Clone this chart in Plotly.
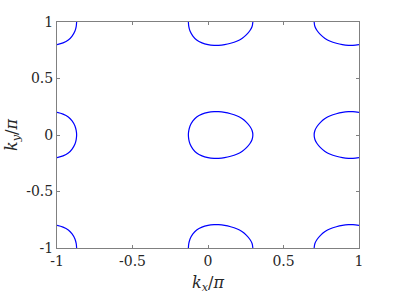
import plotly.graph_objects as go

# Fermi-surface contour pieces (kx/pi, ky/pi)
center_kx = [-0.130, -0.127, -0.119, -0.100, -0.075, -0.040, 0.000, 0.040, 0.070, 0.110, 0.150, 0.190, 0.225, 0.255, 0.278, 0.292, 0.297,
             0.292, 0.278, 0.255, 0.225, 0.190, 0.150, 0.110, 0.070, 0.040, 0.000, -0.040, -0.075, -0.100, -0.119, -0.127, -0.130]
center_ky = [0.000, 0.040, 0.080, 0.125, 0.160, 0.185, 0.200, 0.206, 0.206, 0.200, 0.188, 0.170, 0.145, 0.112, 0.075, 0.040, 0.000,
             -0.040, -0.075, -0.112, -0.145, -0.170, -0.188, -0.200, -0.206, -0.206, -0.200, -0.185, -0.160, -0.125, -0.080, -0.040, 0.000]

top_center_kx = [-0.130, -0.127, -0.119, -0.100, -0.075, -0.040, 0.000, 0.040, 0.070, 0.110, 0.150, 0.190, 0.225, 0.255, 0.278, 0.292, 0.297]
top_center_ky = [1.000, 0.960, 0.920, 0.875, 0.840, 0.815, 0.800, 0.794, 0.794, 0.800, 0.812, 0.830, 0.855, 0.888, 0.925, 0.960, 1.000]
bottom_center_kx = [-0.130, -0.127, -0.119, -0.100, -0.075, -0.040, 0.000, 0.040, 0.070, 0.110, 0.150, 0.190, 0.225, 0.255, 0.278, 0.292, 0.297]
bottom_center_ky = [-1.000, -0.960, -0.920, -0.875, -0.840, -0.815, -0.800, -0.794, -0.794, -0.800, -0.812, -0.830, -0.855, -0.888, -0.925, -0.960, -1.000]

right_mid_kx = [1.000, 0.960, 0.930, 0.890, 0.850, 0.810, 0.775, 0.745, 0.722, 0.708, 0.703,
                0.708, 0.722, 0.745, 0.775, 0.810, 0.850, 0.890, 0.930, 0.960, 1.000]
right_mid_ky = [0.200, 0.206, 0.206, 0.200, 0.188, 0.170, 0.145, 0.112, 0.075, 0.040, 0.000,
                -0.040, -0.075, -0.112, -0.145, -0.170, -0.188, -0.200, -0.206, -0.206, -0.200]
right_top_kx = [0.703, 0.708, 0.722, 0.745, 0.775, 0.810, 0.850, 0.890, 0.930, 0.960, 1.000]
right_top_ky = [1.000, 0.960, 0.925, 0.888, 0.855, 0.830, 0.812, 0.800, 0.794, 0.794, 0.800]
right_bot_kx = [0.703, 0.708, 0.722, 0.745, 0.775, 0.810, 0.850, 0.890, 0.930, 0.960, 1.000]
right_bot_ky = [-1.000, -0.960, -0.925, -0.888, -0.855, -0.830, -0.812, -0.800, -0.794, -0.794, -0.800]

left_mid_kx = [-1.000, -0.960, -0.925, -0.900, -0.881, -0.873, -0.870, -0.873, -0.881, -0.900, -0.925, -0.960, -1.000]
left_mid_ky = [0.200, 0.185, 0.160, 0.125, 0.080, 0.040, 0.000, -0.040, -0.080, -0.125, -0.160, -0.185, -0.200]
left_top_kx = [-1.000, -0.960, -0.925, -0.900, -0.881, -0.873, -0.870]
left_top_ky = [0.800, 0.815, 0.840, 0.875, 0.920, 0.960, 1.000]
left_bot_kx = [-1.000, -0.960, -0.925, -0.900, -0.881, -0.873, -0.870]
left_bot_ky = [-0.800, -0.815, -0.840, -0.875, -0.920, -0.960, -1.000]

tick_vals = [-1, -0.5, 0, 0.5, 1]
tick_text = ["-1", "-0.5", "0", "0.5", "1"]

pieces = [
    (center_kx, center_ky), (top_center_kx, top_center_ky), (bottom_center_kx, bottom_center_ky),
    (right_mid_kx, right_mid_ky), (right_top_kx, right_top_ky), (right_bot_kx, right_bot_ky),
    (left_mid_kx, left_mid_ky), (left_top_kx, left_top_ky), (left_bot_kx, left_bot_ky),
]

SERIF = "DejaVu Serif"

fig = go.Figure()
for kx, ky in pieces:
    fig.add_trace(go.Scatter(x=kx, y=ky, mode="lines", line=dict(color="#0000ff", width=1.2),
                             line_shape="spline", showlegend=False, hoverinfo="skip"))

axis_common = dict(
    range=[-1, 1], showgrid=False, zeroline=False, showline=True, mirror="ticks",
    linecolor="#808080", linewidth=1, ticks="inside", ticklen=3, tickcolor="#808080",
    tickvals=tick_vals, ticktext=tick_text, automargin=False,
    tickfont=dict(family=SERIF, size=14, color="#262626"),
)
fig.update_xaxes(**axis_common)
fig.update_yaxes(**axis_common)

L, R, T, B = 57, 38, 22, 49
plot_w = 397 - L - R
plot_h = 297 - T - B

fig.update_layout(
    width=397, height=297,
    margin=dict(l=L, r=R, t=T, b=B),
    plot_bgcolor="white", paper_bgcolor="white",
    annotations=[
        dict(text="<i>k</i><sub><i>x</i></sub>/<i>π</i>", x=0.5, y=-(283 - (297 - B)) / plot_h,
             xref="paper", yref="paper", xanchor="center", yanchor="middle",
             showarrow=False, font=dict(family=SERIF, size=16, color="#262626")),
        dict(text="<i>k</i><sub><i>y</i></sub>/<i>π</i>", x=-(L - 12) / plot_w, y=0.5,
             xref="paper", yref="paper", xanchor="center", yanchor="middle",
             showarrow=False, textangle=-90, font=dict(family=SERIF, size=16, color="#262626")),
    ],
)

fig.write_html("out.html", config={"displayModeBar": False},
               post_script="document.body.style.margin='0';")
